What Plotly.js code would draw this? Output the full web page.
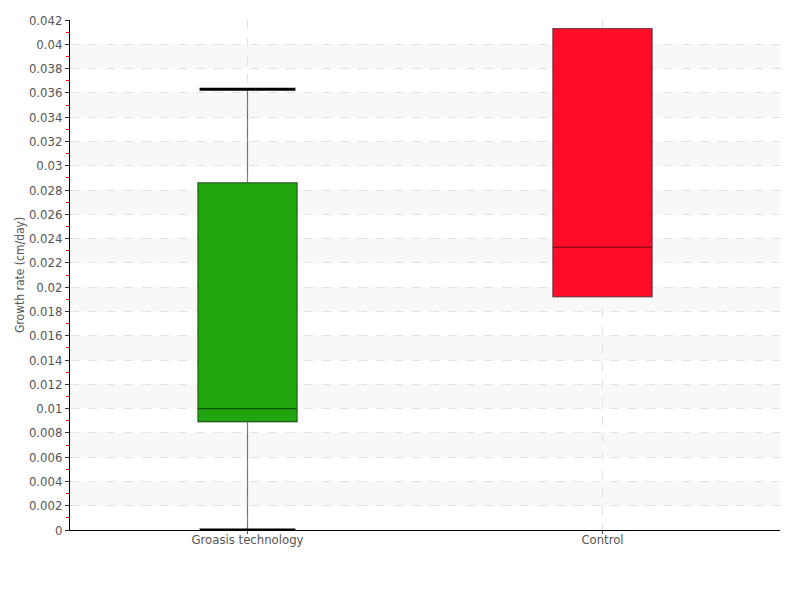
<!DOCTYPE html>
<html>
<head>
<meta charset="utf-8">
<script src="https://cdn.plot.ly/plotly-3.0.1.min.js"></script>
<style>html,body{margin:0;padding:0;background:#fff;}#chart{width:800px;height:600px;}
#chart svg text{font-stretch:condensed !important;}</style>
</head>
<body>
<div id="chart"></div>
<script>
// Data
const categories = ["Groasis technology", "Control"];
const lowerFence = [0.0, 0.0192];
const q1 = [0.0089, 0.0192];
const median = [0.0100, 0.0233];
const q3 = [0.0286, 0.0413];
const upperFence = [0.0363, 0.0413];
const fillColors = ["#21a50f", "#ff0d28"];
const yTicks = [0,0.002,0.004,0.006,0.008,0.01,0.012,0.014,0.016,0.018,0.02,0.022,0.024,0.026,0.028,0.03,0.032,0.034,0.036,0.038,0.04,0.042];
const yTitle = 'Growth rate (cm/day)';

const FONT = '"DejaVu Sans Condensed", "DejaVu Sans", sans-serif';
const boxWidth = 0.28;
const capHalf = 0.135;

const traces = [];
categories.forEach((c, i) => {
  traces.push({
    type: 'box',
    name: c,
    x: [i],
    q1: [q1[i]],
    median: [median[i]],
    q3: [q3[i]],
    lowerfence: [lowerFence[i]],
    upperfence: [upperFence[i]],
    width: boxWidth,
    whiskerwidth: 0,
    fillcolor: fillColors[i],
    line: {color: 'rgba(0,0,0,0.5)', width: 1.2},
    hoverinfo: 'skip',
    showlegend: false
  });
});
// whisker caps (only where the whisker extends beyond the box)
categories.forEach((c, i) => {
  [[lowerFence[i], q1[i]], [upperFence[i], q3[i]]].forEach(([f, q]) => {
    if (Math.abs(f - q) > 1e-9) {
      traces.push({
        type: 'scatter', mode: 'lines',
        x: [i - capHalf, i + capHalf], y: [f, f],
        line: {color: '#000', width: 3},
        hoverinfo: 'skip', showlegend: false, cliponaxis: false
      });
    }
  });
});

// alternating background bands
const shapes = [];
for (let k = 1; k + 1 < yTicks.length; k += 2) {
  shapes.push({
    type: 'rect', xref: 'paper', yref: 'y', x0: 0, x1: 1,
    y0: yTicks[k], y1: yTicks[k + 1],
    fillcolor: '#f8f8f8', line: {width: 0}, layer: 'below'
  });
}

const layout = {
  width: 800, height: 600,
  margin: {l: 70, r: 20, t: 20, b: 70},
  paper_bgcolor: '#fff', plot_bgcolor: '#fff',
  font: {family: FONT, color: '#555', size: 13},
  showlegend: false,
  shapes: shapes,
  annotations: [{
    text: yTitle, xref: 'paper', yref: 'paper',
    x: (20 - 70) / 710, y: 0.5, xanchor: 'center', yanchor: 'middle',
    textangle: -90, showarrow: false,
    font: {family: FONT, size: 12, color: '#555'}
  }],
  xaxis: {
    range: [-0.5, 1.5],
    tickmode: 'array', tickvals: categories.map((c, i) => i), ticktext: categories,
    showline: true, linecolor: '#000', linewidth: 1,
    ticks: 'outside', ticklen: 3, tickcolor: '#555',
    ticklabelstandoff: -6,
    showgrid: true, gridcolor: '#e2e2e2', griddash: 'dash', gridwidth: 1,
    zeroline: false,
    tickfont: {family: FONT, size: 13, color: '#555'}
  },
  yaxis: {
    range: [0, 0.042],
    tickmode: 'array', tickvals: yTicks, ticktext: yTicks.map(v => String(v)),
    showline: true, linecolor: '#000', linewidth: 1,
    ticks: 'outside', ticklen: 4, tickcolor: '#333',
    minor: {dtick: 0.001, tick0: 0.001, ticks: 'outside', ticklen: 3, tickcolor: '#ff0000', showgrid: false},
    showgrid: true, gridcolor: '#e2e2e2', griddash: 'dash', gridwidth: 1,
    zeroline: false,
    tickfont: {family: FONT, size: 13, color: '#555'}
  }
};

Plotly.newPlot('chart', traces, layout, {displayModeBar: false, staticPlot: true});
</script>
</body>
</html>
